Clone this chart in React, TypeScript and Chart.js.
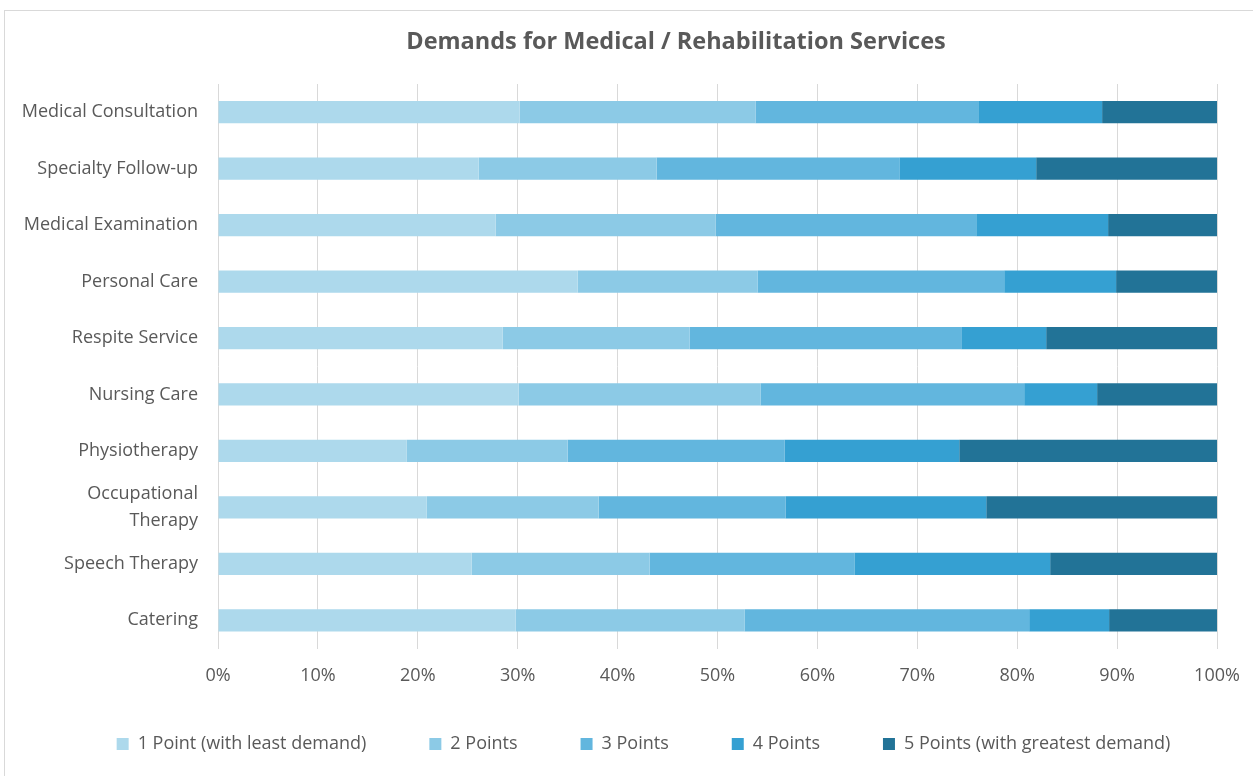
import React, { useEffect, useRef } from 'react';
import { Chart, registerables } from 'chart.js';

Chart.register(...registerables);

const categories: (string | string[])[] = [
  'Medical Consultation',
  'Specialty Follow-up',
  'Medical Examination',
  'Personal Care',
  'Respite Service',
  'Nursing Care',
  'Physiotherapy',
  ['Occupational', 'Therapy'],
  'Speech Therapy',
  'Catering',
];

const seriesNames = [
  '1 Point (with least demand)',
  '2 Points',
  '3 Points',
  '4 Points',
  '5 Points (with greatest demand)',
];

const point1 = [30.2, 26.1, 27.8, 36.0, 28.5, 30.1, 18.9, 20.9, 25.4, 29.8];
const point2 = [23.6, 17.8, 22.0, 18.0, 18.7, 24.2, 16.1, 17.2, 17.8, 22.9];
const point3 = [22.3, 24.3, 26.1, 24.7, 27.2, 26.4, 21.7, 18.7, 20.5, 28.5];
const point4 = [12.4, 13.7, 13.2, 11.2, 8.5, 7.3, 17.5, 20.1, 19.6, 8.0];
const point5 = [11.5, 18.1, 10.9, 10.1, 17.1, 12.0, 25.8, 23.1, 16.7, 10.8];

const xTicks = [0, 10, 20, 30, 40, 50, 60, 70, 80, 90, 100];

const seriesValues = [point1, point2, point3, point4, point5];
const seriesColors = ['#ADD9EC', '#8CCAE6', '#62B6DE', '#35A0D2', '#227397'];

const FONT = '"Open Sans", sans-serif';
const TEXT = '#595959';
const LEGEND_PAD = 63;

const placer = {
  id: 'placer',
  afterLayout(chart: any) {
    const lg = chart.legend;
    if (lg) {
      const h = lg.height;
      lg.left = -30;
      lg.right = 1317;
      lg.top = 744 - 9 - LEGEND_PAD;
      lg.bottom = lg.top + h;
    }
    const t = chart.titleBlock;
    if (t) {
      t.left = 135;
      t.right = 1217;
    }
  },
};

export default function App() {
  const ref = useRef<HTMLCanvasElement | null>(null);

  useEffect(() => {
    document.body.style.margin = '0';
    const canvas = ref.current;
    if (!canvas) return;
    const chart = new Chart(canvas, {
      type: 'bar',
      data: {
        labels: categories,
        datasets: seriesNames.map((name, i) => ({
          label: name,
          data: seriesValues[i],
          backgroundColor: seriesColors[i],
          borderWidth: 0,
          barPercentage: 0.395,
          categoryPercentage: 1,
        })),
      },
      plugins: [placer],
      options: {
        indexAxis: 'y',
        responsive: false,
        animation: false,
        layout: { padding: { left: 0, right: 36, top: 0, bottom: -3.5 } },
        plugins: {
          title: {
            display: true,
            text: 'Demands for Medical / Rehabilitation Services',
            color: TEXT,
            font: { family: FONT, size: 23.5, weight: 'bold' },
            padding: { top: 28, bottom: 27.8 },
          },
          legend: {
            position: 'bottom',
            labels: {
              color: TEXT,
              font: { family: FONT, size: 18 },
              boxWidth: 12,
              boxHeight: 12,
              padding: LEGEND_PAD,
            },
          },
          tooltip: { enabled: false },
        },
        scales: {
          x: {
            stacked: true,
            min: 0,
            max: 100,
            afterBuildTicks: (scale: any) => {
              scale.ticks = xTicks.map((v) => ({ value: v }));
            },
            afterFit: (scale: any) => {
              scale.height = 40;
              scale.paddingLeft = 0;
              scale.paddingRight = 0;
            },
            ticks: {
              color: TEXT,
              font: { family: FONT, size: 18 },
              padding: 16.7,
              callback: (v: any) => v + '%',
            },
            grid: { color: '#D9D9D9', lineWidth: 1, drawTicks: false },
            border: { display: false },
          },
          y: {
            stacked: true,
            afterFit: (scale: any) => {
              scale.width = 218;
            },
            ticks: {
              color: TEXT,
              font: { family: FONT, size: 18, lineHeight: 1.45 },
              padding: 20,
            },
            grid: { display: false, drawTicks: false },
            border: { display: false },
          },
        },
      },
    });
    return () => chart.destroy();
  }, []);

  return (
    <div style={{ position: 'relative', width: 1253, height: 776, overflow: 'hidden', background: '#fff' }}>
      <div
        style={{
          position: 'absolute',
          left: 4,
          top: 10,
          width: 1270,
          height: 790,
          border: '1px solid #D9D9D9',
          boxSizing: 'border-box',
        }}
      />
      <canvas ref={ref} width={1253} height={776} style={{ position: 'absolute', left: 0, top: 0, width: 1253, height: 776 }} />
    </div>
  );
}
